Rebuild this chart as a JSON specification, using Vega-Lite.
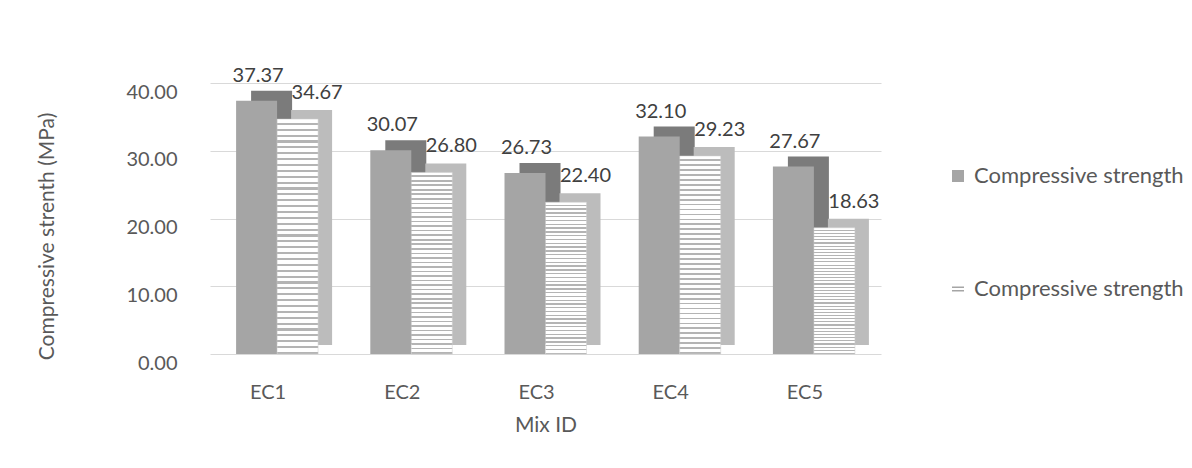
{
  "$schema": "https://vega.github.io/schema/vega-lite/v6.json",
  "width": 671,
  "height": 271,
  "autosize": {"type": "none"},
  "padding": {"left": 210, "top": 83, "right": 311, "bottom": 114},
  "background": "white",
  "config": {
    "view": {"stroke": null},
    "font": "Lato",
    "axis": {"labelFont": "Lato", "titleFont": "Lato", "labelColor": "#595959", "titleColor": "#595959", "titleFontWeight": "normal"},
    "legend": {"labelFont": "Lato"}
  },
  "data": {
    "values": [
      {"mix": "EC1", "s": "A", "value": 37.37},
      {"mix": "EC1", "s": "B", "value": 34.67},
      {"mix": "EC2", "s": "A", "value": 30.07},
      {"mix": "EC2", "s": "B", "value": 26.80},
      {"mix": "EC3", "s": "A", "value": 26.73},
      {"mix": "EC3", "s": "B", "value": 22.40},
      {"mix": "EC4", "s": "A", "value": 32.10},
      {"mix": "EC4", "s": "B", "value": 29.23},
      {"mix": "EC5", "s": "A", "value": 27.67},
      {"mix": "EC5", "s": "B", "value": 18.63}
    ]
  },
  "encoding": {
    "x": {
      "field": "mix", "type": "nominal",
      "scale": {"paddingInner": 0.4, "paddingOuter": 0.2},
      "axis": {"title": "Mix ID", "labelAngle": 0, "domain": false, "ticks": false, "labelPadding": 28, "labelOffset": -9, "labelFontSize": 20, "titleFontSize": 21, "titlePadding": 12}
    },
    "y": {
      "field": "value", "type": "quantitative",
      "scale": {"domain": [0, 40]},
      "axis": {"title": "Compressive strenth (MPa)", "values": [0, 10, 20, 30, 40], "format": ".2f", "domain": false, "ticks": false, "labelPadding": 33, "labelOffset": 9, "labelFontSize": 20, "titleFontSize": 21, "gridColor": "#d9d9d9", "titleX": -163, "titleY": 153, "titleAlign": "center", "titleBaseline": "middle", "titleAngle": -90}
    }
  },
  "layer": [
    {
      "transform": [{"filter": "datum.s === 'A'"}],
      "mark": {"type": "bar", "width": 41, "fill": "#7b7b7b", "xOffset": -5.5, "yOffset": -10, "y2Offset": -10}
    },
    {
      "transform": [{"filter": "datum.s === 'B'"}],
      "mark": {"type": "bar", "width": 41, "fill": "#bcbcbc", "xOffset": 34.5, "yOffset": -9, "y2Offset": -9}
    },
    {
      "transform": [{"filter": "datum.s === 'A'"}],
      "mark": {"type": "bar", "width": 41, "xOffset": -20.5},
      "encoding": {
        "color": {
          "field": "s", "type": "nominal",
          "scale": {"domain": ["A", "B"], "range": ["#a5a5a5", "#ffffff"]},
          "legend": {
            "title": null,
            "orient": "none",
            "legendX": 737,
            "legendY": 82,
            "direction": "vertical",
            "rowPadding": 91,
            "labelExpr": "'Compressive strength'",
            "labelFontSize": 22,
            "labelLimit": 0,
            "labelColor": "#595959",
            "symbolSize": 144,
            "labelOffset": 5,
            "encode": {
              "symbols": {
                "update": {
                  "shape": {"signal": "datum.value === 'B' ? 'M-1,-0.3H1M-1,0.3H1' : 'square'"},
                  "stroke": {"signal": "datum.value === 'B' ? '#a5a5a5' : 'transparent'"},
                  "strokeWidth": {"value": 1.5}
                }
              }
            }
          }
        }
      }
    },
    {
      "transform": [{"filter": "datum.s === 'B'"}],
      "mark": {
        "type": "bar",
        "width": 41,
        "xOffset": 20.5,
        "stroke": "#cfcfcf",
        "strokeWidth": 0.5,
        "fill": {
          "gradient": "linear", "x1": 0, "y1": 0, "x2": 0, "y2": 1,
          "stops": [
            {"offset": 0, "color": "#ffffff"}, {"offset": 0.016, "color": "#ffffff"}, {"offset": 0.016, "color": "#b4b4b4"}, {"offset": 0.025, "color": "#b4b4b4"},
            {"offset": 0.025, "color": "#ffffff"}, {"offset": 0.041, "color": "#ffffff"}, {"offset": 0.041, "color": "#b4b4b4"}, {"offset": 0.05, "color": "#b4b4b4"},
            {"offset": 0.05, "color": "#ffffff"}, {"offset": 0.066, "color": "#ffffff"}, {"offset": 0.066, "color": "#b4b4b4"}, {"offset": 0.075, "color": "#b4b4b4"},
            {"offset": 0.075, "color": "#ffffff"}, {"offset": 0.091, "color": "#ffffff"}, {"offset": 0.091, "color": "#b4b4b4"}, {"offset": 0.1, "color": "#b4b4b4"},
            {"offset": 0.1, "color": "#ffffff"}, {"offset": 0.116, "color": "#ffffff"}, {"offset": 0.116, "color": "#b4b4b4"}, {"offset": 0.125, "color": "#b4b4b4"},
            {"offset": 0.125, "color": "#ffffff"}, {"offset": 0.141, "color": "#ffffff"}, {"offset": 0.141, "color": "#b4b4b4"}, {"offset": 0.15, "color": "#b4b4b4"},
            {"offset": 0.15, "color": "#ffffff"}, {"offset": 0.166, "color": "#ffffff"}, {"offset": 0.166, "color": "#b4b4b4"}, {"offset": 0.175, "color": "#b4b4b4"},
            {"offset": 0.175, "color": "#ffffff"}, {"offset": 0.191, "color": "#ffffff"}, {"offset": 0.191, "color": "#b4b4b4"}, {"offset": 0.2, "color": "#b4b4b4"},
            {"offset": 0.2, "color": "#ffffff"}, {"offset": 0.216, "color": "#ffffff"}, {"offset": 0.216, "color": "#b4b4b4"}, {"offset": 0.225, "color": "#b4b4b4"},
            {"offset": 0.225, "color": "#ffffff"}, {"offset": 0.241, "color": "#ffffff"}, {"offset": 0.241, "color": "#b4b4b4"}, {"offset": 0.25, "color": "#b4b4b4"},
            {"offset": 0.25, "color": "#ffffff"}, {"offset": 0.266, "color": "#ffffff"}, {"offset": 0.266, "color": "#b4b4b4"}, {"offset": 0.275, "color": "#b4b4b4"},
            {"offset": 0.275, "color": "#ffffff"}, {"offset": 0.291, "color": "#ffffff"}, {"offset": 0.291, "color": "#b4b4b4"}, {"offset": 0.3, "color": "#b4b4b4"},
            {"offset": 0.3, "color": "#ffffff"}, {"offset": 0.316, "color": "#ffffff"}, {"offset": 0.316, "color": "#b4b4b4"}, {"offset": 0.325, "color": "#b4b4b4"},
            {"offset": 0.325, "color": "#ffffff"}, {"offset": 0.341, "color": "#ffffff"}, {"offset": 0.341, "color": "#b4b4b4"}, {"offset": 0.35, "color": "#b4b4b4"},
            {"offset": 0.35, "color": "#ffffff"}, {"offset": 0.366, "color": "#ffffff"}, {"offset": 0.366, "color": "#b4b4b4"}, {"offset": 0.375, "color": "#b4b4b4"},
            {"offset": 0.375, "color": "#ffffff"}, {"offset": 0.391, "color": "#ffffff"}, {"offset": 0.391, "color": "#b4b4b4"}, {"offset": 0.4, "color": "#b4b4b4"},
            {"offset": 0.4, "color": "#ffffff"}, {"offset": 0.416, "color": "#ffffff"}, {"offset": 0.416, "color": "#b4b4b4"}, {"offset": 0.425, "color": "#b4b4b4"},
            {"offset": 0.425, "color": "#ffffff"}, {"offset": 0.441, "color": "#ffffff"}, {"offset": 0.441, "color": "#b4b4b4"}, {"offset": 0.45, "color": "#b4b4b4"},
            {"offset": 0.45, "color": "#ffffff"}, {"offset": 0.466, "color": "#ffffff"}, {"offset": 0.466, "color": "#b4b4b4"}, {"offset": 0.475, "color": "#b4b4b4"},
            {"offset": 0.475, "color": "#ffffff"}, {"offset": 0.491, "color": "#ffffff"}, {"offset": 0.491, "color": "#b4b4b4"}, {"offset": 0.5, "color": "#b4b4b4"},
            {"offset": 0.5, "color": "#ffffff"}, {"offset": 0.516, "color": "#ffffff"}, {"offset": 0.516, "color": "#b4b4b4"}, {"offset": 0.525, "color": "#b4b4b4"},
            {"offset": 0.525, "color": "#ffffff"}, {"offset": 0.541, "color": "#ffffff"}, {"offset": 0.541, "color": "#b4b4b4"}, {"offset": 0.55, "color": "#b4b4b4"},
            {"offset": 0.55, "color": "#ffffff"}, {"offset": 0.566, "color": "#ffffff"}, {"offset": 0.566, "color": "#b4b4b4"}, {"offset": 0.575, "color": "#b4b4b4"},
            {"offset": 0.575, "color": "#ffffff"}, {"offset": 0.591, "color": "#ffffff"}, {"offset": 0.591, "color": "#b4b4b4"}, {"offset": 0.6, "color": "#b4b4b4"},
            {"offset": 0.6, "color": "#ffffff"}, {"offset": 0.616, "color": "#ffffff"}, {"offset": 0.616, "color": "#b4b4b4"}, {"offset": 0.625, "color": "#b4b4b4"},
            {"offset": 0.625, "color": "#ffffff"}, {"offset": 0.641, "color": "#ffffff"}, {"offset": 0.641, "color": "#b4b4b4"}, {"offset": 0.65, "color": "#b4b4b4"},
            {"offset": 0.65, "color": "#ffffff"}, {"offset": 0.666, "color": "#ffffff"}, {"offset": 0.666, "color": "#b4b4b4"}, {"offset": 0.675, "color": "#b4b4b4"},
            {"offset": 0.675, "color": "#ffffff"}, {"offset": 0.691, "color": "#ffffff"}, {"offset": 0.691, "color": "#b4b4b4"}, {"offset": 0.7, "color": "#b4b4b4"},
            {"offset": 0.7, "color": "#ffffff"}, {"offset": 0.716, "color": "#ffffff"}, {"offset": 0.716, "color": "#b4b4b4"}, {"offset": 0.725, "color": "#b4b4b4"},
            {"offset": 0.725, "color": "#ffffff"}, {"offset": 0.741, "color": "#ffffff"}, {"offset": 0.741, "color": "#b4b4b4"}, {"offset": 0.75, "color": "#b4b4b4"},
            {"offset": 0.75, "color": "#ffffff"}, {"offset": 0.766, "color": "#ffffff"}, {"offset": 0.766, "color": "#b4b4b4"}, {"offset": 0.775, "color": "#b4b4b4"},
            {"offset": 0.775, "color": "#ffffff"}, {"offset": 0.791, "color": "#ffffff"}, {"offset": 0.791, "color": "#b4b4b4"}, {"offset": 0.8, "color": "#b4b4b4"},
            {"offset": 0.8, "color": "#ffffff"}, {"offset": 0.816, "color": "#ffffff"}, {"offset": 0.816, "color": "#b4b4b4"}, {"offset": 0.825, "color": "#b4b4b4"},
            {"offset": 0.825, "color": "#ffffff"}, {"offset": 0.841, "color": "#ffffff"}, {"offset": 0.841, "color": "#b4b4b4"}, {"offset": 0.85, "color": "#b4b4b4"},
            {"offset": 0.85, "color": "#ffffff"}, {"offset": 0.866, "color": "#ffffff"}, {"offset": 0.866, "color": "#b4b4b4"}, {"offset": 0.875, "color": "#b4b4b4"},
            {"offset": 0.875, "color": "#ffffff"}, {"offset": 0.891, "color": "#ffffff"}, {"offset": 0.891, "color": "#b4b4b4"}, {"offset": 0.9, "color": "#b4b4b4"},
            {"offset": 0.9, "color": "#ffffff"}, {"offset": 0.916, "color": "#ffffff"}, {"offset": 0.916, "color": "#b4b4b4"}, {"offset": 0.925, "color": "#b4b4b4"},
            {"offset": 0.925, "color": "#ffffff"}, {"offset": 0.941, "color": "#ffffff"}, {"offset": 0.941, "color": "#b4b4b4"}, {"offset": 0.95, "color": "#b4b4b4"},
            {"offset": 0.95, "color": "#ffffff"}, {"offset": 0.966, "color": "#ffffff"}, {"offset": 0.966, "color": "#b4b4b4"}, {"offset": 0.975, "color": "#b4b4b4"},
            {"offset": 0.975, "color": "#ffffff"}, {"offset": 0.991, "color": "#ffffff"}, {"offset": 0.991, "color": "#b4b4b4"}, {"offset": 1, "color": "#b4b4b4"}
          ]
        }
      }
    },
    {
      "transform": [{"filter": "datum.s === 'A'"}],
      "mark": {"type": "text", "baseline": "bottom", "dy": -15, "dx": -19, "fontSize": 20, "color": "#404040"},
      "encoding": {
        "text": {"field": "value", "type": "quantitative", "format": ".2f"}
      }
    },
    {
      "transform": [{"filter": "datum.s === 'B'"}],
      "mark": {"type": "text", "baseline": "bottom", "dy": -16, "dx": 40, "fontSize": 20, "color": "#404040"},
      "encoding": {
        "text": {"field": "value", "type": "quantitative", "format": ".2f"}
      }
    }
  ]
}
